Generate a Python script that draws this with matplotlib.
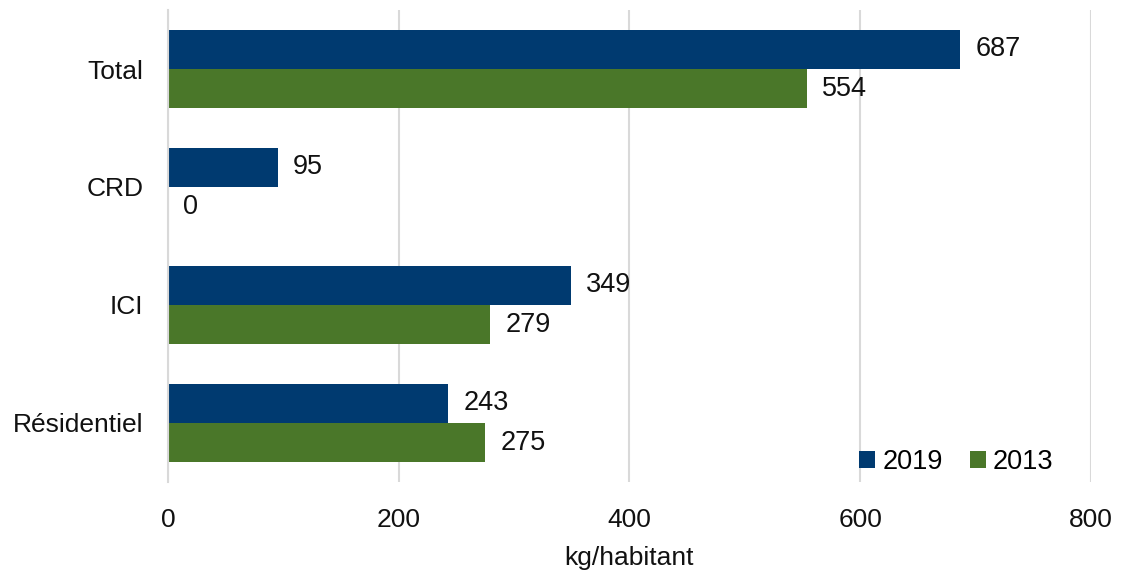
import numpy as np
import matplotlib.pyplot as plt

plt.rcParams['font.family'] = ['Liberation Sans', 'DejaVu Sans']

categories = ['Total', 'CRD', 'ICI', 'Résidentiel']
values_2019 = [687, 95, 349, 243]
values_2013 = [554, 0, 279, 275]
x_ticks = [0, 200, 400, 600, 800]

blue = '#003A70'
green = '#4A7729'

fig = plt.figure(figsize=(11.21, 5.73), dpi=100)
ax = fig.add_axes([0.15, 0.159, 0.823, 0.8235])

y = np.arange(len(categories))
h = 0.333
b19 = ax.barh(y - h / 2, values_2019, height=h, color=blue, label='2019')
b13 = ax.barh(y + h / 2, values_2013, height=h, color=green, label='2013')

# value labels just past the end of each bar
for bars in (b19, b13):
    ax.bar_label(bars, labels=[str(int(v)) for v in bars.datavalues],
                 padding=11, fontsize=19.5, color='#111111')

ax.set_ylim(3.5, -0.5)
ax.set_xlim(0, 800)
ax.set_xticks(x_ticks)
ax.set_yticks(y)
ax.set_yticklabels(categories)
ax.tick_params(axis='both', length=0, labelsize=19, colors='#111111')
ax.tick_params(axis='x', pad=19)
ax.tick_params(axis='y', pad=18)
ax.set_xlabel('kg/habitant', fontsize=19, labelpad=10, color='#111111')

ax.grid(axis='x', color='#D9D9D9', linewidth=1.5)
ax.set_axisbelow(True)
for side in ('top', 'right', 'bottom'):
    ax.spines[side].set_visible(False)
ax.spines['left'].set_color('#D9D9D9')
ax.spines['left'].set_linewidth(1.5)

ax.legend(loc='lower right', bbox_to_anchor=(0.98, -0.025), ncol=2, frameon=False,
          fontsize=19.5, handlelength=0.6, handleheight=0.6, handletextpad=0.25,
          columnspacing=1.0, borderaxespad=0.3)

fig.savefig('out.png', dpi=100)
